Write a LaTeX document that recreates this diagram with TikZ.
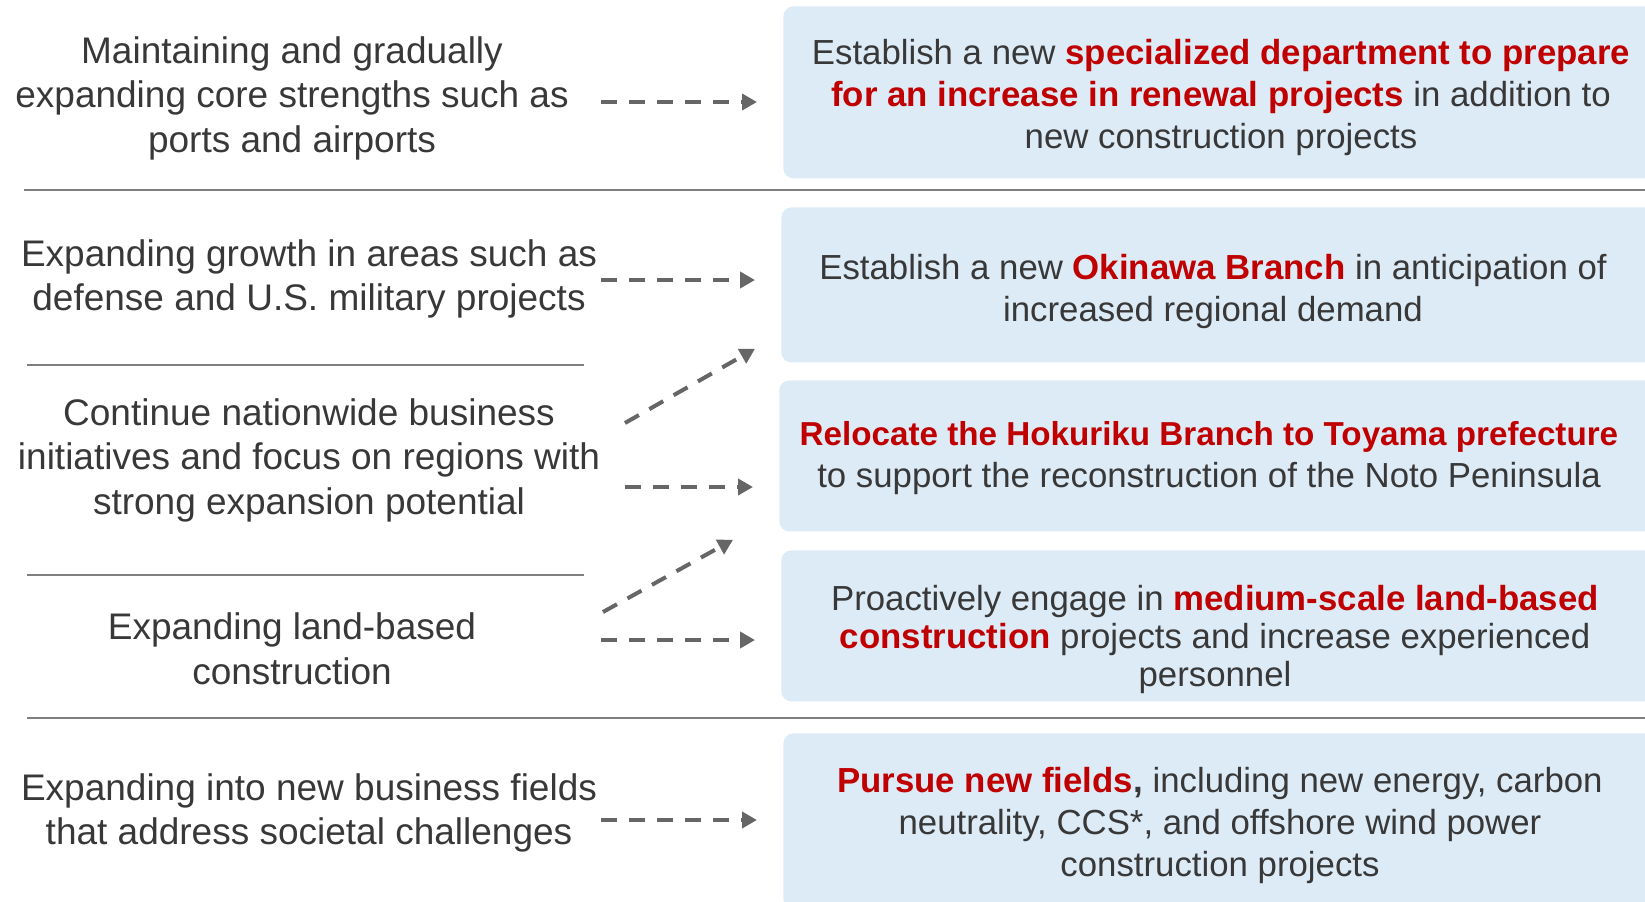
\documentclass[tikz,border=0pt]{standalone}
\usepackage{fontspec}
\setmainfont{Liberation Sans}
\usetikzlibrary{arrows.meta}
\definecolor{txtgray}{HTML}{383838}
\definecolor{keyred}{HTML}{C00000}
\definecolor{boxblue}{HTML}{DDEBF7}
\definecolor{arrowgray}{HTML}{666666}
\definecolor{rulegray}{HTML}{7F7F7F}
\newcommand{\keytext}[1]{\textbf{\color{keyred}#1}}

\begin{document}
\begin{tikzpicture}[x=0.5pt,y=-0.5pt]
	\tikzstyle{LeftStyle}=[text=txtgray,align=center,font=\fontsize{18.5}{22.25}\selectfont]
	\tikzstyle{BoxStyle}=[fill=boxblue,rounded corners=5pt,anchor=north west,minimum width=443pt,inner sep=0pt]
	\tikzstyle{PlanStyle}=[text=txtgray,align=center,inner sep=0pt,font=\fontsize{17.4}{21}\selectfont]
	\tikzstyle{ArrowStyle}=[arrowgray,line width=2pt,dash pattern=on 8pt off 6pt,-{Triangle[length=7.5pt,width=8pt]},shorten >=13pt]
	\tikzstyle{RuleStyle}=[rulegray,line width=0.9pt]
	\useasboundingbox (0,0) rectangle (1645,901);
	% goals on the left
	\node[LeftStyle] (goalA) at (292,98) {Maintaining and gradually\\expanding core strengths such as\\ports and airports};
	\node[LeftStyle] (goalB) at (309,279) {Expanding growth in areas such as\\defense and U.S. military projects};
	\node[LeftStyle] (goalC) at (309,460) {Continue nationwide business\\initiatives and focus on regions with\\strong expansion potential};
	\node[LeftStyle] (goalD) at (292,649) {Expanding land-based\\construction};
	\node[LeftStyle] (goalE) at (309,813) {Expanding into new business fields\\that address societal challenges};
	% boxes on the right
	\node[BoxStyle,minimum height=86pt] (boxA) at (783,6) {};
	\node[BoxStyle,minimum height=77.5pt] (boxB) at (781,207) {};
	\node[BoxStyle,minimum height=75.5pt] (boxC) at (779,380) {};
	\node[BoxStyle,minimum height=75.5pt] (boxD) at (781,550) {};
	\node[BoxStyle,minimum height=88pt] (boxE) at (783,733) {};
	% measures
	\node[PlanStyle] (planA) at (1221,97) {Establish a new \keytext{specialized department to prepare}\\\keytext{for an increase in renewal projects} in addition to\\new construction projects};
	\node[PlanStyle] (planB) at (1213,291) {Establish a new \keytext{Okinawa Branch} in anticipation of\\increased regional demand};
	\node[PlanStyle] (planC) at (1209,458) {{\fontsize{16.6}{21}\selectfont\keytext{Relocate the Hokuriku Branch to Toyama prefecture}}\\to support the reconstruction of the Noto Peninsula};
	\node[PlanStyle,font=\fontsize{17.4}{19}\selectfont] (planD) at (1215,639) {Proactively engage in \keytext{medium-scale land-based}\\\keytext{construction} projects and increase experienced\\personnel};
	\node[PlanStyle] (planE) at (1220,825) {\keytext{Pursue new fields}\textbf{,} including new energy, carbon\\neutrality, CCS*, and offshore wind power\\construction projects};
	% dividers
	\draw[RuleStyle] (24,190) -- (1660,190);
	\draw[RuleStyle] (27,718) -- (1660,718);
	\draw[RuleStyle,line width=0.6pt] (27,365) -- (584,365);
	\draw[RuleStyle,line width=0.6pt] (27,575) -- (584,575);
	% arrows
	\coordinate (tailA) at (601,102);
	\coordinate (tailB) at (601,280);
	\coordinate (tailC) at (625,423);
	\coordinate (tailD) at (625,487);
	\coordinate (tailE) at (603,612);
	\coordinate (tailF) at (601,640);
	\coordinate (tailG) at (601,820);
	\draw[ArrowStyle] (tailA) -- (tailA -| boxA.west);
	\draw[ArrowStyle] (tailB) -- (tailB -| boxB.west);
	\draw[ArrowStyle,shorten >=0pt] (tailC) -- ([shift={(-26,-14)}]boxB.south west);
	\draw[ArrowStyle] (tailD) -- (tailD -| boxC.west);
	\draw[ArrowStyle,shorten >=0pt] (tailE) -- ([shift={(-46,8)}]boxC.south west);
	\draw[ArrowStyle] (tailF) -- (tailF -| boxD.west);
	\draw[ArrowStyle] (tailG) -- (tailG -| boxE.west);
\end{tikzpicture}
\end{document}
